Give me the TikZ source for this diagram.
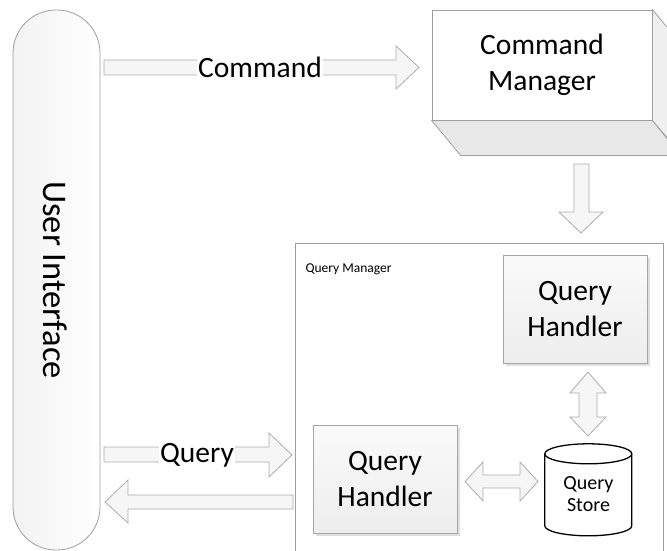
\documentclass[tikz,border=0pt]{standalone}
\usepackage{fontspec}
\setmainfont{Carlito}
\usetikzlibrary{shadows}

\tikzset{
  bigtext/.style={font=\fontsize{29.5}{36}\selectfont},
  blockarrow/.style={draw=gray!65, fill=gray!7, line width=0.8pt, line join=miter},
  handler/.style={draw=gray!70, top color=gray!4, bottom color=gray!14, line width=0.8pt,
    minimum width=144pt, minimum height=108pt, bigtext, align=center,
    drop shadow={opacity=0.25, shadow xshift=3pt, shadow yshift=-3pt}},
}

\begin{document}
\begin{tikzpicture}[x=1pt,y=-1pt]
\useasboundingbox (0,0) rectangle (667,551);
% User interface
\node[draw=gray!75, left color=gray!10, right color=white, line width=0.8pt, rounded corners=43pt,
  minimum width=87pt, minimum height=540pt] (ui) at (56.5,280) {};
\node[font=\fontsize{34.5}{40}\selectfont, rotate=-90] (uitext) at (55,280) {User Interface};
% Command manager (3D box)
\node[bigtext, align=center, draw=gray!75, fill=white, line width=0.8pt,
  minimum width=220pt, minimum height=110pt] (cmd) at (542,65) {Command\\Manager};
\path[draw=gray!75, fill=gray!18, line width=0.8pt] (cmd.south west) --++(29,35) --++(220,0) -- (cmd.south east) -- cycle;
\path[draw=gray!75, fill=gray!12, line width=0.8pt] (cmd.north east) --++(29,35) --++(0,110) -- (cmd.south east) -- cycle;
% Query manager
\node[draw=gray!75, line width=0.8pt, minimum width=368pt, minimum height=330pt, anchor=north west] (qmgr) at (295,243) {};
\node[anchor=west, font=\fontsize{13.5}{16}\selectfont] (qmlabel) at (302,269) {Query Manager};
\node[handler] (qhtop) at (575,309) {Query\\Handler};
\node[handler] (qhbot) at (385,479) {Query\\Handler};
% Query store
\node[minimum width=87pt, minimum height=92pt] (store) at (588.5,490) {};
\draw[line width=1.3pt, fill=white] (store.north west) ++(0,10) --++(0,72)
  arc[start angle=180, end angle=360, x radius=43.5pt, y radius=10pt] --++(0,-72)
  arc[start angle=0, end angle=180, x radius=43.5pt, y radius=10pt] -- cycle;
\draw[line width=1.3pt] (store.north west) ++(0,10) arc[start angle=180, end angle=360, x radius=43.5pt, y radius=10pt];
\node[align=center, font=\fontsize{20}{22}\selectfont] (storetext) at (588.5,494) {Query\\Store};
% Block arrows
\path[blockarrow] (104,60) --++(292,0) --++(0,-14) --++(23,21.5) --++(-23,21.5) --++(0,-14) --++(-292,0) -- cycle;
\node[fill=white, inner sep=1pt, bigtext] (cmdlabel) at (260,67) {Command};
\path[blockarrow] (574,164) --++(15,0) --++(0,48) --++(14,0) --++(-22,21) --++(-22,-21) --++(15,0) -- cycle;
\path[blockarrow] (104,447) --++(165,0) --++(0,-14) --++(23,22) --++(-23,22) --++(0,-15) --++(-165,0) -- cycle;
\node[fill=white, inner sep=1pt, bigtext] (qlabel) at (197,455) {Query};
\path[blockarrow] (293,495) --++(-165,0) --++(0,-15) --++(-23,22) --++(23,21) --++(0,-14) --++(165,0) -- cycle;
\path[blockarrow] (579,393) --++(0,24) --++(-9,0) --++(18,19) --++(18,-19) --++(-9,0) --++(0,-24) --++(9,0) --++(-18,-21) --++(-18,21) -- cycle;
\path[blockarrow] (483,475) --++(37,0) --++(0,-13) --++(18,19.5) --++(-18,19.5) --++(0,-13) --++(-37,0) --++(0,13) --++(-18,-19.5) --++(18,-19.5) -- cycle;
\end{tikzpicture}
\end{document}
